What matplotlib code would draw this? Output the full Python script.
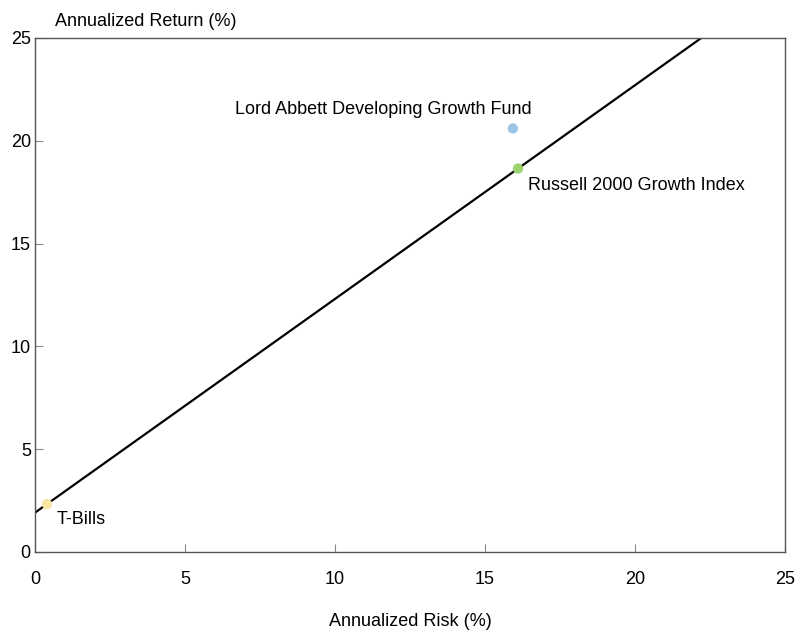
import matplotlib
matplotlib.use("Agg")
import matplotlib.pyplot as plt
import numpy as np

plt.rcParams['font.family'] = ['Liberation Sans', 'DejaVu Sans']

# risk / return points
names = ["T-Bills", "Lord Abbett Developing Growth Fund", "Russell 2000 Growth Index"]
risk = [0.4, 15.93, 16.1]
ret = [2.33, 20.6, 18.65]
colors = ["#f8e7a2", "#9dc3e6", "#9dd36f"]

ticks = [0, 5, 10, 15, 20, 25]

fig = plt.figure(figsize=(7.98, 6.35), dpi=100)
ax = fig.add_axes([35 / 798, 1 - 552 / 635, 750 / 798, 514 / 635])

# market line through T-Bills and the index
slope = (ret[2] - ret[0]) / (risk[2] - risk[0])
icpt = ret[0] - slope * risk[0]
xs = np.array([0, 25])
ax.plot(xs, icpt + slope * xs, color="black", lw=1.6, zorder=2)

ax.scatter(risk, ret, s=55, c=colors, edgecolors="none", zorder=3)

ax.text(risk[0] + 0.33, ret[0] - 0.77, names[0], fontsize=13, va="center", ha="left")
ax.text(16.55, 21.5, names[1], fontsize=13, va="center", ha="right")
ax.text(risk[2] + 0.33, ret[2] - 0.8, names[2], fontsize=13, va="center", ha="left")

ax.set_xlim(0, 25)
ax.set_ylim(0, 25)
ax.set_xticks(ticks)
ax.set_yticks(ticks)
ax.tick_params(direction="in", length=6, width=0.8, color="#888888", labelsize=13)
ax.tick_params(axis="x", pad=14)
ax.tick_params(axis="y", pad=3)
for s in ax.spines.values():
    s.set_color("#555555")
    s.set_linewidth(1.0)

fig.text(55 / 798, 1 - 22 / 635, "Annualized Return (%)", fontsize=13, va="center", ha="left")
fig.text(410 / 798, 1 - 622 / 635, "Annualized Risk (%)", fontsize=13, va="center", ha="center")

fig.savefig("out.png", dpi=100)
